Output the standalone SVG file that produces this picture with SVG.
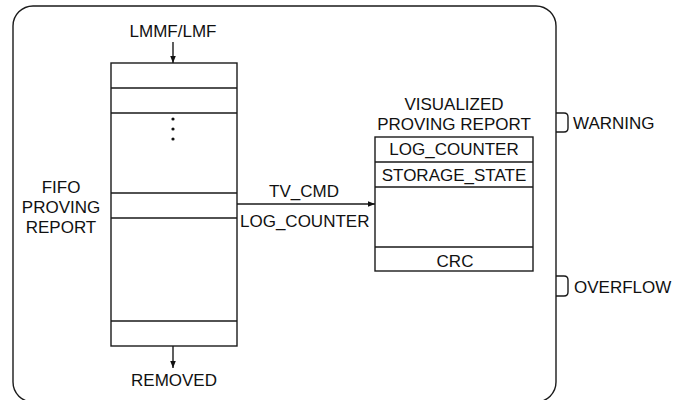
<svg xmlns="http://www.w3.org/2000/svg" width="673" height="400" viewBox="0 0 673 400">
<style>
.ln{fill:none;stroke:#1a1a1a;stroke-width:1.4}
.bx{fill:#fff;stroke:#1a1a1a;stroke-width:1.4}
text{font-family:"Liberation Sans",Arial,sans-serif;font-size:17px;fill:#111}
.c{text-anchor:middle}
</style>
<defs>
<marker id="ah" viewBox="0 0 10 10" refX="10" refY="5" markerWidth="7" markerHeight="7" orient="auto" markerUnits="userSpaceOnUse">
<path d="M0,1 L10,5 L0,9 z" fill="#111"/>
</marker>
</defs>
<rect width="673" height="400" fill="#fff"/>
<g id="container">
<rect class="ln" x="13" y="6" width="543" height="396" rx="20" ry="20"/>
<path class="ln" d="M556,113 h8 q4,0 4,4 v11 q0,4 -4,4 h-8"/>
<text x="573" y="129">WARNING</text>
<path class="ln" d="M556,276 h8 q4,0 4,4 v12 q0,4 -4,4 h-8"/>
<text x="574" y="293">OVERFLOW</text>
</g>
<g id="fifo">
<rect class="bx" x="111" y="63" width="126" height="283"/>
<path class="ln" d="M111,88 H237 M111,113 H237 M111,193 H237 M111,218 H237 M111,321 H237"/>
<circle cx="173" cy="119" r="1.6" fill="#111"/>
<circle cx="173" cy="129" r="1.6" fill="#111"/>
<circle cx="173" cy="139" r="1.6" fill="#111"/>
<text class="c" x="61" y="193">FIFO</text>
<text class="c" x="61" y="213">PROVING</text>
<text class="c" x="61" y="233">REPORT</text>
</g>
<g id="lmmf">
<text class="c" x="173" y="37">LMMF/LMF</text>
</g>
<g id="removed">
<text class="c" x="174" y="386">REMOVED</text>
</g>
<g id="visualized">
<text class="c" x="454" y="110">VISUALIZED</text>
<text class="c" x="454" y="130">PROVING REPORT</text>
<rect class="bx" x="375" y="137" width="158" height="134"/>
<path class="ln" d="M375,162 H533 M375,187 H533 M375,247 H533"/>
<text class="c" x="454" y="155">LOG_COUNTER</text>
<text class="c" x="454" y="181">STORAGE_STATE</text>
<text class="c" x="455" y="267">CRC</text>
</g>
<g id="connectors">
<line class="ln" x1="173" y1="42" x2="173" y2="63" marker-end="url(#ah)"/>
<line class="ln" x1="173" y1="346" x2="173" y2="368" marker-end="url(#ah)"/>
<line class="ln" x1="237" y1="204" x2="375" y2="204" marker-end="url(#ah)"/>
<text class="c" x="304" y="197">TV_CMD</text>
<text x="240" y="227">LOG_COUNTER</text>
</g>
</svg>
